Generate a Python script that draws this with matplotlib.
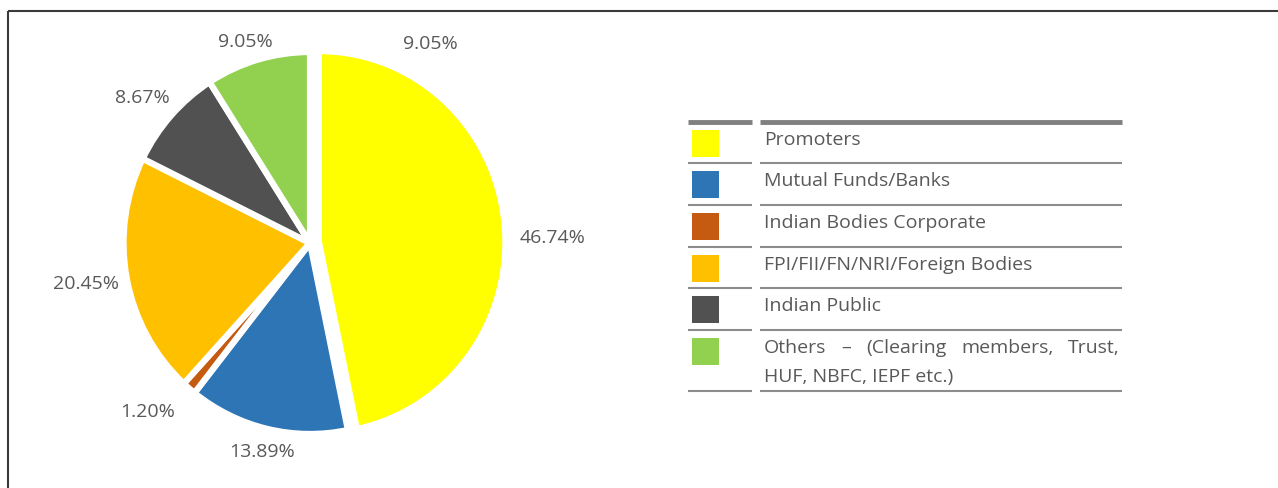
import matplotlib
matplotlib.use("Agg")
import matplotlib.pyplot as plt
import numpy as np

# ---- data ----
categories = ["Promoters", "Mutual Funds/Banks", "Indian Bodies Corporate",
              "FPI/FII/FN/NRI/Foreign Bodies", "Indian Public",
              "Others \u2013 (Clearing members, Trust, HUF, NBFC, IEPF etc.)"]
values = [46.74, 13.89, 1.20, 20.45, 8.67, 9.05]
colors = ["#FFFF00", "#2E75B6", "#C55A11", "#FFC000", "#515151", "#92D050"]
explode = [0.048, 0, 0, 0, 0, 0]
# label placement (style): radial distance and angular nudge in degrees
label_dist = [1.303, 1.124, 1.240, 1.220, 1.178, 1.108]
label_nudge = [-4.8, 0.0, -4.1, -0.5, 1.7, 2.0]
extra_label = "9.05%"

W, H = 1278, 488
fig = plt.figure(figsize=(W / 100, H / 100), dpi=100)
FONT = "Open Sans"
TXT = "#595959"

# ---- overlay axes in pixel coordinates ----
ov = fig.add_axes([0, 0, 1, 1])
ov.set_xlim(0, W)
ov.set_ylim(H, 0)
ov.axis("off")

# frame
ov.plot([8, 8], [11, H], color="#3a3a3a", lw=1.5, solid_capstyle="butt")
ov.plot([8, 1278], [11, 11], color="#3a3a3a", lw=1.5, solid_capstyle="butt")

# ---- pie ----
cx, cy, Rx, Ry = 310, 243, 186.5, 191
xl, yl = 1.55, 1.25
ax = fig.add_axes([(cx - xl * Rx) / W, (H - cy - yl * Ry) / H,
                   2 * xl * Rx / W, 2 * yl * Ry / H])
wedges, texts = ax.pie(values, colors=colors, startangle=90, counterclock=False,
                       explode=explode,
                       labels=[f"{v:.2f}%" for v in values], labeldistance=1.2,
                       wedgeprops=dict(edgecolor="white", linewidth=4.5),
                       textprops=dict(color=TXT, fontsize=14, family=FONT))
ang = 90.0
for t, v, d, n in zip(texts, values, label_dist, label_nudge):
    mid = np.deg2rad(ang - v * 3.6 / 2 + n)
    ang -= v * 3.6
    t.set_position((d * np.cos(mid), d * np.sin(mid)))
    t.set_ha("center")
    t.set_va("center")
ax.text(1.224 * np.cos(np.deg2rad(58.3)), 1.224 * np.sin(np.deg2rad(58.3)),
        extra_label, color=TXT, fontsize=14, family=FONT, ha="center", va="center")
ax.set_xlim(-xl, xl)
ax.set_ylim(-yl, yl)
ax.set_aspect("auto")
ax.axis("off")

# ---- legend table ----
lx0, lx1 = 688, 752
rx0, rx1 = 760, 1122
ov.plot([lx0, lx1], [122, 122], color="#808080", lw=3.5, solid_capstyle="butt")
ov.plot([rx0, rx1], [122, 122], color="#808080", lw=3.5, solid_capstyle="butt")
row_lines = [163, 205, 247, 288, 330, 391]
row_tops = [122, 163, 205, 247, 288, 330]
for y in row_lines:
    ov.plot([lx0, lx1], [y, y], color="#8c8c8c", lw=1.5, solid_capstyle="butt")
    ov.plot([rx0, rx1], [y, y], color="#8c8c8c", lw=1.5, solid_capstyle="butt")
for c, top in zip(colors, row_tops):
    ov.add_patch(plt.Rectangle((692, top + 8), 27, 27, color=c, lw=0))
FS = 14
text_y = [140, 181, 223, 265, 306]
for name, y in zip(categories[:5], text_y):
    ov.text(764, y, name, color=TXT, fontsize=FS, family=FONT,
            ha="left", va="center")

# justified first line of last row
fig.canvas.draw()
rend = fig.canvas.get_renderer()
words = ["Others", "\u2013", "(Clearing", "members,", "Trust,"]
widths = []
for w in words:
    tt = ov.text(0, 0, w, fontsize=FS, family=FONT)
    widths.append(tt.get_window_extent(renderer=rend).width)
    tt.remove()
span = 1120 - 764
gap = (span - sum(widths)) / (len(words) - 1)
x = 764
for w, wd in zip(words, widths):
    ov.text(x, 348, w, color=TXT, fontsize=FS, family=FONT, ha="left", va="center")
    x += wd + gap
ov.text(764, 377, "HUF, NBFC, IEPF etc.)", color=TXT, fontsize=FS, family=FONT,
        ha="left", va="center")

fig.savefig("out.png", dpi=100)
